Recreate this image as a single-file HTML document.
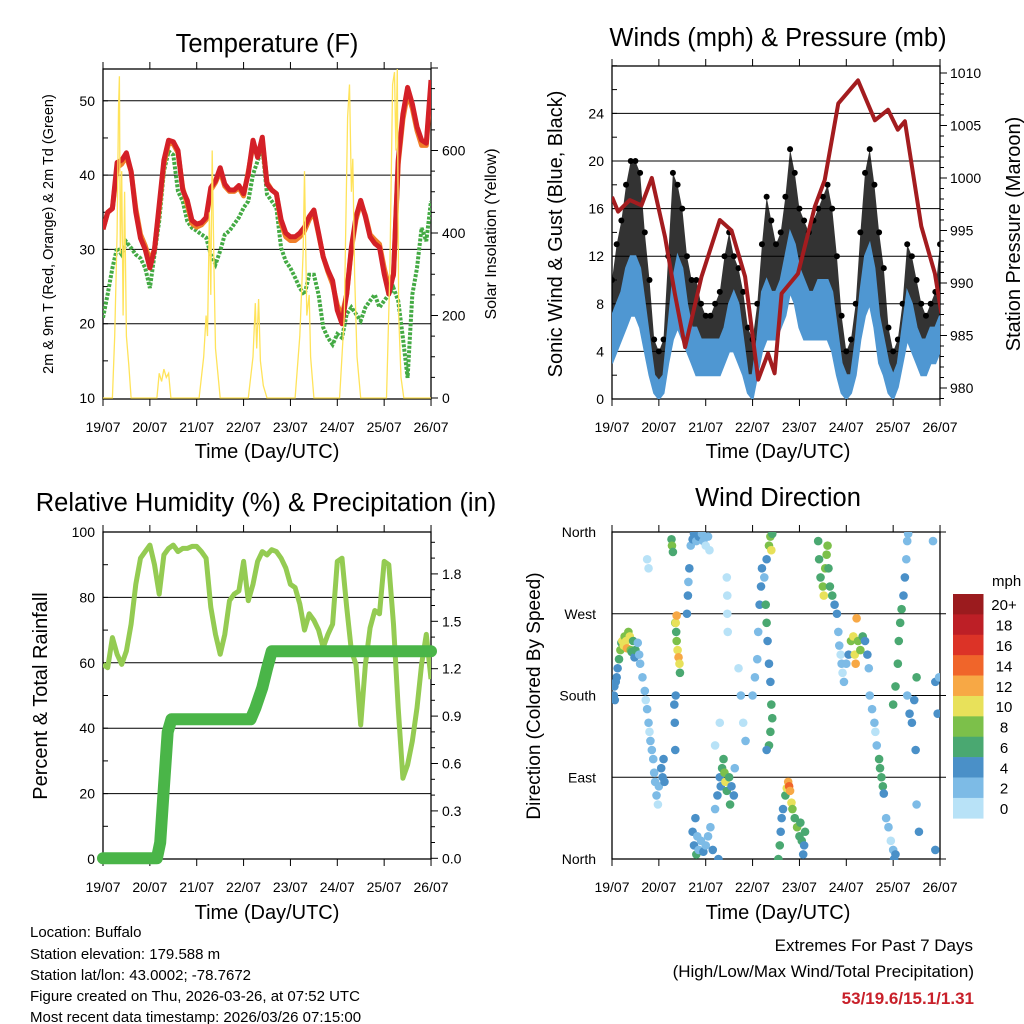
<!DOCTYPE html>
<html><head><meta charset="utf-8">
<style>
html,body{margin:0;padding:0;background:#fff;}
svg{display:block;font-family:"Liberation Sans",Arial,sans-serif;}
</style></head>
<body>
<svg id="chart" width="1024" height="1024" viewBox="0 0 1024 1024" xmlns="http://www.w3.org/2000/svg">
<defs>
<clipPath id="c1"><rect x="103" y="69" width="328" height="330"/></clipPath>
<clipPath id="c2"><rect x="612" y="66" width="328" height="333"/></clipPath>
<clipPath id="c3"><rect x="103" y="532" width="328" height="328"/></clipPath>
<clipPath id="c4"><rect x="612" y="532" width="328" height="328"/></clipPath>
</defs>
<rect width="1024" height="1024" fill="#fff"/>
<g id="layer"></g>
<text x="267" y="52" font-size="25.5" text-anchor="middle">Temperature (F)</text>
<text x="778" y="46" font-size="25.5" text-anchor="middle">Winds (mph) &amp; Pressure (mb)</text>
<text x="266" y="511" font-size="25.5" text-anchor="middle">Relative Humidity (%) &amp; Precipitation (in)</text>
<text x="778" y="506" font-size="25.5" text-anchor="middle">Wind Direction</text>
<text x="267" y="458" font-size="20" text-anchor="middle">Time (Day/UTC)</text>
<text x="778" y="458" font-size="20" text-anchor="middle">Time (Day/UTC)</text>
<text x="267" y="919" font-size="20" text-anchor="middle">Time (Day/UTC)</text>
<text x="778" y="919" font-size="20" text-anchor="middle">Time (Day/UTC)</text>
<text transform="translate(53,234) rotate(-90)" font-size="14.5" text-anchor="middle">2m &amp; 9m T (Red, Orange) &amp; 2m Td (Green)</text>
<text transform="translate(496,234) rotate(-90)" font-size="16" text-anchor="middle">Solar Insolation (Yellow)</text>
<text transform="translate(562,234) rotate(-90)" font-size="20" text-anchor="middle">Sonic Wind &amp; Gust (Blue, Black)</text>
<text transform="translate(1020,234) rotate(-90)" font-size="20" text-anchor="middle">Station Pressure (Maroon)</text>
<text transform="translate(47,696) rotate(-90)" font-size="20" text-anchor="middle">Percent &amp; Total Rainfall</text>
<text transform="translate(540,696) rotate(-90)" font-size="19" text-anchor="middle">Direction (Colored By Speed)</text>
<g font-size="15">
<text x="30" y="937">Location: Buffalo</text>
<text x="30" y="959">Station elevation: 179.588 m</text>
<text x="30" y="980">Station lat/lon: 43.0002; -78.7672</text>
<text x="30" y="1001">Figure created on Thu, 2026-03-26, at 07:52 UTC</text>
<text x="30" y="1022">Most recent data timestamp: 2026/03/26 07:15:00</text>
</g>
<text x="973" y="951" font-size="17" text-anchor="end">Extremes For Past 7 Days</text>
<text x="974" y="977" font-size="17" text-anchor="end">(High/Low/Max Wind/Total Precipitation)</text>
<text x="974" y="1004" font-size="17" font-weight="bold" fill="#c8202a" text-anchor="end">53/19.6/15.1/1.31</text>
<text x="992" y="586" font-size="15">mph</text>
</svg>
<script>
// ---------- data ----------
const dayLabels=["19/07","20/07","21/07","22/07","23/07","24/07","25/07","26/07"];
const stepDays=[0,0.1,0.2,0.3,0.4,0.5,0.6,0.7,0.8,0.9,1,1.1,1.2,1.3,1.4,1.5,1.6,1.7,1.8,1.9,2,2.1,2.2,2.3,2.4,2.5,2.6,2.7,2.8,2.9,3,3.1,3.2,3.3,3.4,3.5,3.6,3.7,3.8,3.9,4,4.1,4.2,4.3,4.4,4.5,4.6,4.7,4.8,4.9,5,5.1,5.2,5.3,5.4,5.5,5.6,5.7,5.8,5.9,6,6.1,6.2,6.3,6.4,6.5,6.6,6.7,6.8,6.9,7];
const tempRed=[32.7,35,35.5,41.7,42,43,40.5,35,31.5,30,27.5,30,36,42,44.7,44.5,43.3,38,36.6,33.9,33.4,33.6,34.3,38.3,39.2,41,38.8,38,38,38.6,37.5,40.2,44.7,42.4,45.1,38.8,38,37.5,34,32.2,31.7,31.7,32.2,33,34.4,35.3,32.2,29,27.2,25.8,21.8,20,24,30.3,34.4,36.6,34.4,31.7,30.8,30.3,26.7,24,26.7,42,48.2,51.8,49.6,46.5,44.7,44.3,52.8];
const tempOrange=[32.7,35,35.5,41,41.5,42.5,40.5,35.5,32,30.5,28.5,30,35.5,41.5,44.3,44.2,43,38.3,36,33.5,33,33.3,34,38,39,40.5,38.5,37.8,37.8,38.3,37.2,40.5,44,42.8,44.5,39,38,37.5,33.5,31.7,31.2,31.2,31.7,32.5,34,35,32,29,27,25.3,22.5,21,24,30,34,36.3,34.6,32,31.3,30.7,27.5,25,26.5,41.5,47.5,51,49,46,44,44,52];
const dewGreen=[20.8,24,27.5,30.2,29.3,31,30.2,29.3,28.8,27.5,24.8,29.3,33.8,40.5,43.2,42.7,37.8,36.5,33.8,32.9,32.5,32,31.6,29.3,28,29.8,32,32.5,33.4,34.3,35.6,36.5,40.1,41.9,43.7,37.4,36.5,35.6,30.2,28.4,27.5,26.2,24.8,23.9,26.6,26.6,23.9,19.5,18.1,17.2,18.6,18.1,21.3,22.2,21.3,20.4,22.2,23.1,23.9,22.2,23.1,23.9,24.8,23.1,18.1,12.7,23.9,27.5,32.9,31.1,36.5];
const solarDays=[0,0.2,0.25,0.3,0.33,0.35,0.37,0.4,0.43,0.46,0.5,0.55,0.6,1.15,1.2,1.25,1.3,1.35,1.4,1.45,2.05,2.15,2.2,2.23,2.27,2.3,2.33,2.37,2.4,2.5,3.1,3.2,3.25,3.28,3.32,3.36,3.42,3.5,4.1,4.2,4.27,4.3,4.35,4.4,4.43,4.5,5.05,5.15,5.22,5.26,5.3,5.33,5.37,5.42,5.5,6.05,6.12,6.18,6.22,6.25,6.28,6.31,6.36,6.42,7];
const solarVals=[0,0,150,400,700,780,350,550,200,500,150,80,0,0,60,40,70,50,60,0,0,100,200,150,450,250,600,300,120,0,0,100,230,120,240,90,30,0,0,150,350,550,200,250,100,0,0,200,680,760,500,580,300,100,0,0,300,760,790,600,800,200,50,0,0];
const windGust=[10,13,15,18,20,20,19,14,10,5,4,5,12,19,18,16,12,10,10,8,7,7,8,9,12,14,12,11,9,6,5,8,13,17,15,13,14,17,21,19,16,15,14,15,16,17,18,16,12,7,4,5,8,14,19,21,18,14,11,6,4,5,8,13,12,10,8,7,8,9,13];
const windHigh=[7,8,9,11,12,12,11,8,5,2,1.5,2,6,10,12,11,8,6,6,5,5,5,5,5,6,8,9,8,5,2,2,5,9,10,9,9,10,12,14,13,11,10,9,9,10,10,10,9,6,3,2,2,5,9,12,13,11,7,5,3,2,3,6,9,8,6,5,5,6,6,7];
const windLow=[3,4,5,6,7,7,6,4,2,0.5,0,0.5,3,5,6,5,4,3,2,2,2,2,2,2,3,4,4,3,2,0.5,0,2,4,5,5,5,6,7,9,8,6,5,5,5,5,5,5,4,2,0.5,0,0.5,2,5,7,8,6,3,2,0.5,0,1,3,5,4,3,2,2,3,3,4];
const pressDays=[0,0.13,0.38,0.63,0.85,1.13,1.34,1.56,1.91,2.3,2.55,2.84,3.12,3.33,3.47,3.62,3.97,4.33,4.54,4.83,5.25,5.61,5.89,6.1,6.25,6.6,6.89,7.03];
const pressVals=[998.2,996.8,997.9,997.4,1000,994.4,989,983.9,990.6,996,995,990.6,980.8,983.3,981.4,989,990.9,997.3,999.8,1007.1,1009.3,1005.5,1006.5,1004.6,1005.4,995.4,990.9,987.1];
const rhVals=[59.5,58.5,67.7,62.6,59.5,63.6,71.8,84,92,94,96,90,81,93,95,96,94,95,95,95.6,95.6,94,92,77,68.7,62.6,68.7,79,81,82,91,79,84,91,94,93,94.6,94,92,89,84,83,78,70,75,73,70,64.7,68.7,71.8,91,92,77,63.6,59.5,41,59.5,70.7,76,75,91,90,71.8,46.2,24.7,28.8,36,46.2,59.5,68.7,55];
const precipDays=[0,1.15,1.22,1.3,1.38,1.46,3.15,3.25,3.4,3.5,3.6,7];
const precipVals=[0,0,0.1,0.45,0.8,0.88,0.88,0.95,1.08,1.2,1.31,1.31];
const wdDays=[0.04,0.05,0.06,0.08,0.1,0.12,0.15,0.18,0.2,0.22,0.25,0.27,0.3,0.32,0.35,0.38,0.4,0.42,0.45,0.48,0.5,0.55,0.58,0.6,
0.65,0.7,0.72,0.75,0.78,0.8,0.82,0.85,0.88,0.9,0.92,0.95,0.98,1.0,1.05,1.08,1.1,1.12,0.75,0.78,
1.27,1.28,1.3,1.35,1.37,1.38,1.4,1.42,1.44,1.45,1.33,1.34,1.35,1.36,1.36,1.38,
1.6,1.62,1.63,1.65,1.68,1.72,1.75,1.8,1.85,1.92,1.95,2.0,2.05,2.08,
1.72,1.75,1.78,1.8,1.82,1.85,1.9,1.95,2.0,2.05,2.1,2.15,2.2,2.25,2.3,2.32,2.35,2.38,2.4,2.42,2.45,2.5,2.52,2.55,2.6,2.62,2.27,
2.45,2.46,2.46,2.47,2.2,2.3,
2.7,2.75,2.8,2.85,3.0,3.05,3.1,3.12,3.15,3.18,3.2,3.25,3.28,3.3,3.32,3.35,3.38,3.4,3.42,3.38,3.35,3.3,3.3,3.35,3.38,3.4,3.42,
3.55,3.58,3.6,3.62,3.65,3.7,3.73,3.76,3.78,3.8,3.83,3.85,3.9,3.95,4.0,4.02,4.05,4.1,4.12,4.08,
4.4,4.42,4.45,4.5,4.52,4.55,4.58,4.6,4.62,4.65,4.7,4.75,4.8,
4.83,4.85,4.88,4.9,4.92,4.95,5.0,5.05,5.1,5.15,5.18,5.2,5.22,5.25,5.3,5.35,5.4,5.45,5.48,
5.5,5.55,5.6,5.62,5.65,5.7,5.72,5.75,5.78,5.8,5.85,5.9,5.95,6.0,6.02,6.05,
6.0,6.05,6.1,6.12,6.15,6.18,6.22,6.25,6.28,6.3,6.32,6.3,6.35,6.4,6.45,6.5,6.48,6.5,6.55,6.9,6.95,6.98,6.85,6.9];
const wdDirs=[180,190,175,195,200,210,220,230,238,240,235,245,240,232,250,245,230,228,240,222,230,238,225,215,
200,185,175,165,150,140,130,120,110,95,85,70,60,80,100,90,110,85,330,320,
352,345,338,260,250,240,230,222,215,205,170,150,120,180,260,268,
270,290,305,320,345,352,358,350,355,358,350,345,355,340,
30,15,45,5,25,10,20,8,15,25,35,10,55,70,90,80,100,110,95,85,75,90,60,80,70,100,0,
310,290,270,250,125,150,
210,180,150,130,180,200,220,250,280,300,320,310,280,260,240,215,195,170,155,140,125,120,330,345,355,340,358,
0,15,30,45,55,70,78,85,80,75,62,55,45,35,25,40,20,15,30,5,
350,330,310,300,290,320,335,345,320,300,290,280,270,
250,235,225,215,205,195,215,225,240,245,225,215,265,240,230,245,240,225,210,
180,165,150,140,125,110,100,90,80,72,45,35,20,10,0,5,
170,190,215,240,260,275,290,310,330,350,358,180,160,150,175,200,120,60,30,195,160,200,350,10];
const wdSpeeds=[4,4,4,4,4,5,6,8,7,10,11,9,10,12,8,10,9,6,7,5,6,3,3,2,
2,2,1,2,2,1,2,2,3,2,2,2,1,3,4,4,5,4,0,0,
6,8,7,8,7,8,10,12,10,6,4,4,4,5,10,12,
4,4,3,4,3,4,4,3,4,2,2,1,2,1,
4,5,4,6,3,3,2,4,3,2,3,4,3,4,5,4,6,7,8,10,6,7,6,4,4,3,4,
1,1,1,1,1,1,
1,2,1,2,2,2,2,3,4,4,4,3,6,7,4,5,4,6,6,6,6,5,5,8,9,10,7,
6,6,5,4,5,6,11,13,15,13,10,8,7,8,7,6,6,4,6,4,
6,6,7,8,10,8,9,8,7,6,6,4,4,
2,2,1,2,1,2,2,4,8,10,11,12,13,8,8,7,4,4,3,
2,2,2,1,2,6,7,6,6,5,2,2,1,3,4,4,
6,6,6,6,7,6,4,4,3,2,3,3,4,4,5,6,4,3,4,4,4,3,2,4];
const cbLabels=["20+","18","16","14","12","10","8","6","4","2","0"];
const cbColors=["#9b1b1e","#bd1f26","#dc3327","#f0652a","#f7a845","#e8e15a","#7cc04a","#4aa871","#4a90c8","#7dbbe6","#b8e2f7"];

// ---------- helpers ----------
const NS="http://www.w3.org/2000/svg";
const layer=document.getElementById('layer');
function mk(tag,attrs,parent){const e=document.createElementNS(NS,tag);for(const k in attrs)e.setAttribute(k,attrs[k]);(parent||layer).appendChild(e);return e;}
const DAYW=46.86;
function xAt(x0,d){return x0+d*DAYW;}
function pathOf(xs,ys){return xs.map((x,i)=>(i?'L':'M')+x.toFixed(1)+' '+ys[i].toFixed(1)).join(' ');}
function speedColor(s){let i=Math.min(10,Math.floor(s/2));return cbColors[10-i];}

function frame(name,x0,y0,w,h){
  const g=mk('g',{});
  
  
  mk('rect',{x:x0,y:y0,width:w,height:h,fill:'none',stroke:'#000','stroke-width':1.3},g);
  for(let i=0;i<=7;i++){
    const x=x0+i*DAYW;
    mk('line',{x1:x,y1:y0,x2:x,y2:y0-7,stroke:'#000','stroke-width':1},g);
    mk('line',{x1:x,y1:y0+h,x2:x,y2:y0+h+7,stroke:'#000','stroke-width':1},g);
    const t=mk('text',{x:x,y:y0+h+33,'font-size':14,'text-anchor':'middle'},g);
    t.textContent=dayLabels[i];
    
    
  }
  return g;
}
function hgrid(g,x0,x1,y){mk('line',{x1:x0,y1:y,x2:x1,y2:y,stroke:'#000','stroke-width':1},g);}
function label(g,x,y,txt,anchor,name){const t=mk('text',{x:x,y:y+5,'font-size':14,'text-anchor':anchor},g);t.textContent=txt;}

// ---------- Panel 1: temperature ----------
(function(){
  const x0=103,y0=69,w=328,h=330;
  const yT=v=>398-(v-10)*7.43, yS=s=>398-s*0.4125;
  const g=frame('temperature',x0,y0,w,h);
  [20,30,40,50].forEach(v=>hgrid(g,x0,x0+w,yT(v)));
  for(let v=10;v<=54;v+=5){mk('line',{x1:x0,y1:yT(v),x2:x0+5,y2:yT(v),stroke:'#000'},g);}
  [10,20,30,40,50].forEach(v=>label(g,x0-8,yT(v),String(v),'end','temp-y-tick-label'));
  for(let s=0;s<=800;s+=50){mk('line',{x1:x0+w,y1:yS(s),x2:x0+w+(s%200?4:7),y2:yS(s),stroke:'#000'},g);}
  [0,200,400,600].forEach(s=>label(g,x0+w+11,yS(s),String(s),'start','solar-y-tick-label'));
  const c=mk('g',{'clip-path':'url(#c1)'});
  const xs=stepDays.map(d=>xAt(x0,d));
  const gr=mk('path',{d:pathOf(xs,dewGreen.map(yT)),fill:'none',stroke:'#44aa44','stroke-width':4,'stroke-dasharray':'3 1.5'},c);
  
  const or=mk('path',{d:pathOf(xs,tempOrange.map(yT)),fill:'none',stroke:'#f07f2a','stroke-width':5,'stroke-linejoin':'round'},c);
  
  const rd=mk('path',{d:pathOf(xs,tempRed.map(yT)),fill:'none',stroke:'#d42027','stroke-width':5,'stroke-linejoin':'round'},c);
  
  const yl=mk('path',{d:pathOf(solarDays.map(d=>xAt(x0,d)),solarVals.map(yS)),fill:'none',stroke:'#ffe35a','stroke-width':1.3},c);
  
})();

// ---------- Panel 2: wind & pressure ----------
(function(){
  const x0=612,y0=66,w=328,h=333;
  const yW=v=>399-v*11.9, yP=p=>388-(p-980)*10.5;
  const g=frame('wind',x0,y0,w,h);
  [4,8,12,16,20,24].forEach(v=>hgrid(g,x0,x0+w,yW(v)));
  for(let v=0;v<=28;v+=2){mk('line',{x1:x0,y1:yW(v),x2:x0+5,y2:yW(v),stroke:'#000'},g);}
  [0,4,8,12,16,20,24].forEach(v=>label(g,x0-8,yW(v),String(v),'end','wind-y-tick-label'));
  for(let p=979;p<=1010;p++){mk('line',{x1:x0+w,y1:yP(p),x2:x0+w+(p%5?4:7),y2:yP(p),stroke:'#000'},g);}
  [980,985,990,995,1000,1005,1010].forEach(p=>label(g,x0+w+10,yP(p),String(p),'start','pressure-y-tick-label'));
  const c=mk('g',{'clip-path':'url(#c2)'});
  const xs=stepDays.map(d=>xAt(x0,d));
  const topPts=xs.map((x,i)=>x.toFixed(1)+','+yW(windGust[i]).toFixed(1));
  const lowPts=xs.map((x,i)=>x.toFixed(1)+','+yW(windLow[i]).toFixed(1)).reverse();
  const gp=mk('polygon',{points:topPts.concat(lowPts).join(' '),fill:'#000','fill-opacity':0.8},c);
  
  windGust.forEach((v,i)=>{
    const d=mk('circle',{cx:xs[i],cy:yW(v),r:3,fill:'#000'},c);
    
    
  });
  const hiPts=xs.map((x,i)=>x.toFixed(1)+','+yW(windHigh[i]).toFixed(1));
  const bp=mk('polygon',{points:hiPts.concat(lowPts).join(' '),fill:'#4f97d2',stroke:'#4f97d2','stroke-width':2},c);
  
  const pl=mk('path',{d:pathOf(pressDays.map(d=>xAt(x0,d)),pressVals.map(yP)),fill:'none',stroke:'#a31c1f','stroke-width':4,'stroke-linejoin':'round'},c);
  
})();

// ---------- Panel 3: RH & precip ----------
(function(){
  const x0=103,y0=532,w=328,h=327;
  const yR=v=>859-v*3.27, yPr=p=>858.3-p*158;
  const g=frame('humidity',x0,y0,w,h);
  [20,40,60,80].forEach(v=>hgrid(g,x0,x0+w,yR(v)));
  for(let v=0;v<=100;v+=10){mk('line',{x1:x0,y1:yR(v),x2:x0+5,y2:yR(v),stroke:'#000'},g);}
  [0,20,40,60,80,100].forEach(v=>label(g,x0-8,yR(v),String(v),'end','rh-y-tick-label'));
  for(let k=0;k<=20;k++){const p=k*0.1;mk('line',{x1:x0+w,y1:yPr(p),x2:x0+w+(k%3?4:7),y2:yPr(p),stroke:'#000'},g);}
  ["0.0","0.3","0.6","0.9","1.2","1.5","1.8"].forEach(s=>label(g,x0+w+11,yPr(parseFloat(s)),s,'start','precip-y-tick-label'));
  const c=mk('g',{'clip-path':'url(#c3)'});
  const rl=mk('path',{d:pathOf(stepDays.map(d=>xAt(x0,d)),rhVals.map(yR)),fill:'none',stroke:'#94cb52','stroke-width':5,'stroke-linejoin':'round'},c);
  
  const pp=mk('path',{d:pathOf(precipDays.map(d=>xAt(x0,d)),precipVals.map(yPr)),fill:'none',stroke:'#4ab548','stroke-width':12,'stroke-linecap':'round','stroke-linejoin':'round'},layer);
  
})();

// ---------- Panel 4: wind direction ----------
(function(){
  const x0=612,y0=532,w=328,h=327;
  const yD=d=>859-d*327/360;
  const g=frame('direction',x0,y0,w,h);
  [90,180,270].forEach(v=>hgrid(g,x0,x0+w+6,yD(v)));
  mk('line',{x1:x0+w,y1:yD(0),x2:x0+w+6,y2:yD(0),stroke:'#000'},g);
  mk('line',{x1:x0+w,y1:yD(360),x2:x0+w+6,y2:yD(360),stroke:'#000'},g);
  [["North",0],["East",90],["South",180],["West",270],["North",360]].forEach(a=>label(g,x0-16,yD(a[1]),a[0],'end','direction-tick-label'));
  const c=mk('g',{'clip-path':'url(#c4)'});
  wdDays.forEach((d,i)=>{
    const p=mk('circle',{cx:xAt(x0,d),cy:yD(wdDirs[i]),r:4.3,fill:speedColor(wdSpeeds[i])},c);
    
    
  });
  const cb=mk('g',{});
  
  
  const bh=224.3/11;
  cbColors.forEach((col,i)=>{
    const r=mk('rect',{x:953,y:594+i*bh,width:30.5,height:bh+0.3,fill:col},cb);
    
    
    const t=mk('text',{x:1004,y:594+i*bh+bh/2+6,'font-size':15,'text-anchor':'middle'},cb);
    t.textContent=cbLabels[i];
    
    
  });
})();
</script>
</body></html>
